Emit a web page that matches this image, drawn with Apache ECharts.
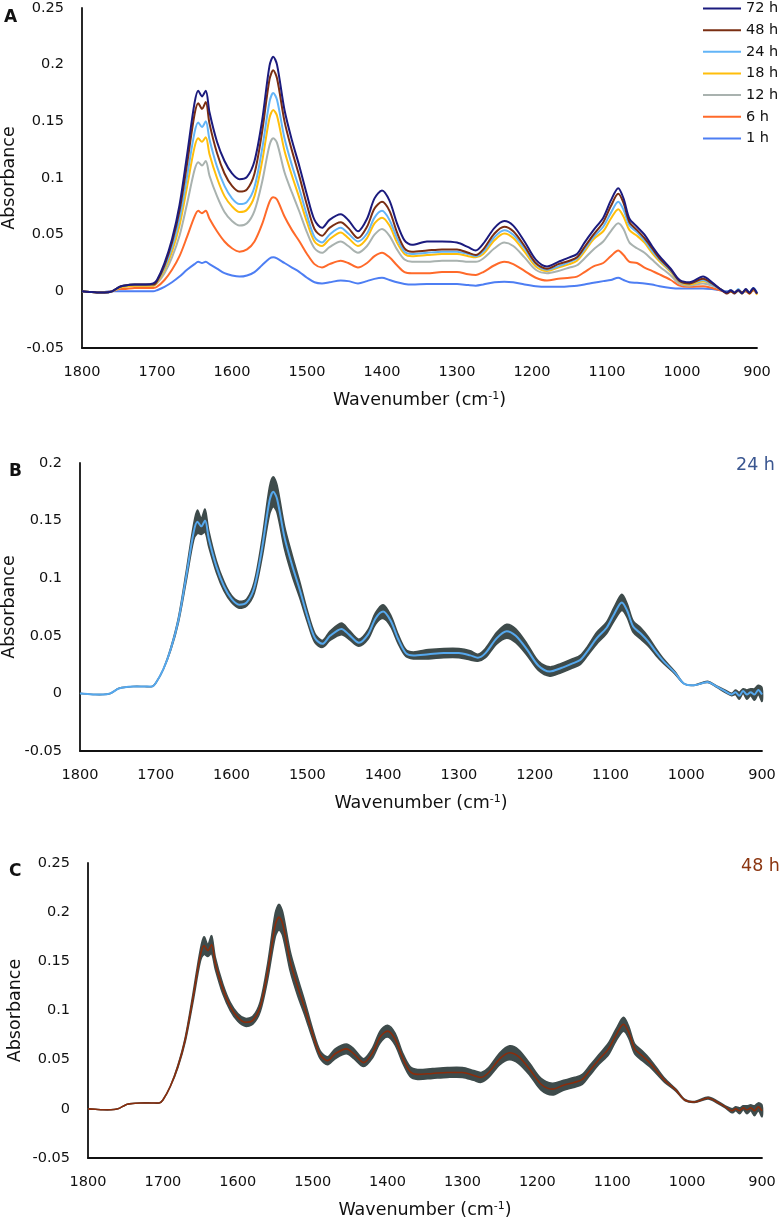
<!DOCTYPE html>
<html>
<head>
<meta charset="utf-8">
<script src="https://cdn.jsdelivr.net/npm/echarts@6/dist/echarts.min.js"></script>
<style>
html,body{margin:0;padding:0;background:#fff;}
#chart{width:780px;height:1221px;}
</style>
</head>
<body>
<div id="chart"></div>
<script>
// Wavenumber grid (cm-1)
var waves = [
  1800,1790,1780,1770,1760,1750,1745,1730,1715,1705,1700,
  1690,1680,1670,1660,1650,1645,1640,1635,1630,1620,1610,1600,1590,
  1580,1570,1560,1550,1545,1540,1530,1520,1510,1500,1490,1480,
  1470,1455,1445,1432,1420,1410,1400,1390,1380,1370,1360,
  1340,1320,1300,1285,1275,1265,1250,1237,1225,1210,1195,1180,
  1165,1150,1140,1130,1118,1105,1095,1085,1078,1070,1060,1050,1040,1030,
  1015,1003,990,972,960,949,940,935,930,925,920,915,910,905,900
];
var a72 = [
  0,-0.0005,-0.001,-0.001,0,0.004,0.005,0.006,0.006,0.007,0.010,
  0.025,0.046,0.076,0.120,0.166,0.177,0.172,0.177,0.158,0.132,0.115,0.104,0.099,
  0.101,0.115,0.150,0.199,0.207,0.200,0.160,0.133,0.110,0.085,0.063,0.056,
  0.063,0.068,0.063,0.053,0.064,0.082,0.089,0.080,0.060,0.045,0.041,
  0.044,0.044,0.043,0.039,0.036,0.042,0.056,0.062,0.058,0.044,0.028,0.022,
  0.026,0.030,0.033,0.043,0.054,0.065,0.080,0.091,0.082,0.064,0.057,0.050,0.040,0.031,
  0.020,0.010,0.008,0.013,0.008,0.002,-0.001,0.001,-0.001,0.001,-0.002,0.002,-0.001,0.003,-0.002
];
var a48 = [
  0,-0.0005,-0.001,-0.001,0,0.004,0.005,0.006,0.006,0.006,0.009,
  0.023,0.043,0.071,0.112,0.156,0.166,0.161,0.167,0.148,0.122,0.104,0.093,0.088,
  0.090,0.104,0.140,0.187,0.195,0.188,0.150,0.124,0.101,0.076,0.055,0.049,
  0.056,0.061,0.056,0.047,0.057,0.073,0.079,0.071,0.052,0.038,0.035,
  0.036,0.037,0.037,0.034,0.032,0.037,0.051,0.057,0.053,0.040,0.025,0.020,
  0.024,0.027,0.030,0.039,0.050,0.061,0.075,0.086,0.078,0.061,0.054,0.047,0.038,0.029,
  0.019,0.009,0.007,0.011,0.007,0.002,-0.002,0.000,-0.002,0.001,-0.001,0.001,-0.002,0.002,-0.002
];
var a24 = [
  0,-0.0005,-0.001,-0.001,0,0.004,0.005,0.006,0.006,0.006,0.009,
  0.021,0.039,0.064,0.101,0.140,0.149,0.145,0.150,0.134,0.110,0.093,0.082,0.077,
  0.079,0.092,0.125,0.167,0.175,0.169,0.135,0.111,0.090,0.067,0.048,0.043,
  0.050,0.056,0.051,0.044,0.051,0.065,0.071,0.063,0.047,0.035,0.033,
  0.034,0.035,0.035,0.033,0.031,0.035,0.048,0.054,0.050,0.038,0.024,0.019,
  0.022,0.026,0.029,0.037,0.048,0.057,0.069,0.079,0.072,0.058,0.052,0.045,0.036,0.028,
  0.018,0.0085,0.007,0.010,0.006,0.002,-0.001,0.001,-0.002,0.002,-0.001,0.001,-0.001,0.003,-0.001
];
var a18 = [
  0,-0.0005,-0.001,-0.001,0,0.003,0.004,0.005,0.005,0.005,0.008,
  0.019,0.035,0.058,0.092,0.127,0.135,0.132,0.136,0.121,0.100,0.084,0.075,0.070,
  0.072,0.084,0.114,0.153,0.160,0.155,0.124,0.102,0.082,0.061,0.044,0.040,
  0.046,0.052,0.047,0.040,0.047,0.060,0.065,0.058,0.043,0.033,0.031,
  0.032,0.033,0.033,0.031,0.030,0.033,0.045,0.051,0.047,0.035,0.022,0.018,
  0.021,0.024,0.027,0.035,0.046,0.053,0.064,0.0725,0.066,0.054,0.049,0.043,0.034,0.0265,
  0.017,0.008,0.006,0.009,0.006,0.002,-0.001,0.000,-0.001,0.001,-0.002,0.001,-0.002,0.002,-0.003
];
var a12 = [
  0,-0.0005,-0.001,-0.001,0,0.003,0.004,0.005,0.005,0.005,0.007,
  0.016,0.030,0.049,0.077,0.107,0.114,0.111,0.115,0.102,0.084,0.070,0.062,0.058,
  0.060,0.071,0.096,0.129,0.135,0.131,0.105,0.087,0.070,0.052,0.038,0.034,
  0.039,0.044,0.040,0.034,0.040,0.050,0.055,0.049,0.037,0.028,0.026,
  0.026,0.027,0.027,0.026,0.026,0.029,0.038,0.043,0.040,0.030,0.019,0.016,
  0.018,0.021,0.023,0.029,0.037,0.044,0.053,0.060,0.055,0.043,0.038,0.034,0.028,0.022,
  0.014,0.0065,0.005,0.007,0.005,0.002,-0.001,0.001,-0.001,0.000,-0.002,0.002,-0.001,0.002,-0.002
];
var a6 = [
  0,-0.0005,-0.001,-0.001,0,0.002,0.002,0.003,0.003,0.003,0.004,
  0.010,0.019,0.031,0.048,0.066,0.071,0.069,0.071,0.064,0.053,0.044,0.038,0.035,
  0.037,0.044,0.059,0.079,0.083,0.081,0.066,0.054,0.044,0.033,0.024,0.021,
  0.024,0.027,0.025,0.021,0.025,0.031,0.034,0.030,0.023,0.017,0.016,
  0.016,0.017,0.017,0.015,0.0145,0.017,0.023,0.026,0.024,0.018,0.012,0.0095,
  0.011,0.012,0.013,0.017,0.022,0.025,0.031,0.036,0.032,0.026,0.025,0.021,0.018,0.015,
  0.010,0.005,0.004,0.0045,0.003,0.001,-0.001,0.000,-0.001,0.001,-0.001,0.000,-0.002,0.001,-0.002
];
var a1 = [
  0,-0.0005,-0.0005,-0.0005,0,0,0,0,0,0,0.001,
  0.004,0.008,0.013,0.019,0.024,0.026,0.025,0.026,0.024,0.020,0.016,0.014,0.013,
  0.014,0.017,0.023,0.029,0.030,0.029,0.025,0.021,0.017,0.012,0.008,0.007,
  0.008,0.0095,0.009,0.007,0.009,0.011,0.012,0.010,0.008,0.0065,0.006,
  0.0065,0.0065,0.0065,0.0055,0.005,0.006,0.008,0.0085,0.008,0.006,0.0045,0.004,
  0.004,0.0045,0.005,0.006,0.0075,0.009,0.010,0.012,0.010,0.008,0.0075,0.007,0.006,0.0045,
  0.003,0.0025,0.0025,0.0026,0.002,0.001,0.000,0.000,-0.001,0.001,-0.001,0.000,-0.001,0.001,-0.002
];
// spread (half-width of the dark band) for panels B (24 h) and C (48 h)
var sd24 = [
  0,0,0,0,0,0,0,0,0,0,0,
  0,0.001,0.002,0.004,0.007,0.010,0.007,0.010,0.007,0.005,0.004,0.003,0.003,
  0.003,0.005,0.008,0.012,0.013,0.012,0.010,0.009,0.007,0.005,0.004,0.003,
  0.004,0.005,0.004,0.003,0.004,0.005,0.006,0.005,0.004,0.003,0.003,
  0.004,0.004,0.004,0.004,0.003,0.004,0.005,0.006,0.006,0.005,0.004,0.004,
  0.004,0.004,0.004,0.004,0.005,0.005,0.006,0.007,0.006,0.005,0.005,0.004,0.003,0.002,
  0.001,0,0,0.0005,0.0005,0.001,0.001,0.002,0.003,0.002,0.004,0.003,0.005,0.004,0.006
];
var sd48 = [
  0,0,0,0,0,0,0,0,0,0,0,
  0,0.001,0.002,0.004,0.006,0.009,0.006,0.009,0.006,0.005,0.004,0.004,0.004,
  0.004,0.005,0.008,0.012,0.013,0.012,0.010,0.009,0.007,0.005,0.004,0.004,
  0.005,0.005,0.005,0.004,0.005,0.006,0.006,0.006,0.005,0.005,0.005,
  0.005,0.005,0.005,0.005,0.005,0.005,0.006,0.007,0.007,0.006,0.006,0.006,
  0.005,0.005,0.005,0.005,0.005,0.006,0.006,0.007,0.006,0.005,0.005,0.004,0.003,0.002,
  0.001,0.0005,0.0005,0.001,0.001,0.001,0.002,0.002,0.003,0.002,0.004,0.003,0.005,0.004,0.006
];
var seriesNames = ['72 h','48 h','24 h','18 h','12 h','6 h','1 h'];
var seriesColors = ['#1B1B7E','#7A2E12','#62B4F7','#FFBE0B','#A9B2AF','#FF6A2A','#4D7EF3'];
var seriesData = [a72,a48,a24,a18,a12,a6,a1];

function pairs(arr){ return waves.map(function(w,i){ return [w, arr[i]]; }); }
function bandData(m,s){ return waves.map(function(w,i){ return [w, m[i]-s[i], m[i]+s[i]]; }); }

var FONT = 'DejaVu Sans';
var BAND = '#3E4B4B';
var grids = [
  {left:82, width:675, top:8, height:340, outerBoundsMode:'none', containLabel:false},
  {left:80, width:682, top:463, height:288, outerBoundsMode:'none', containLabel:false},
  {left:88, width:674, top:863, height:295, outerBoundsMode:'none', containLabel:false}
];
var yMax = [0.25, 0.2, 0.25];
var yNameGap = [64, 62, 64];

var xAxes = grids.map(function(g,i){
  return {
    type:'value', gridIndex:i, inverse:true, min:900, max:1800, interval:100,
    axisLine:{show:true, onZero:false, lineStyle:{color:'#111', width:1.8}},
    axisTick:{show:false}, splitLine:{show:false},
    axisLabel:{color:'#111', fontSize:14.5, fontFamily:FONT, margin:17,
      formatter:function(v){ return String(v); }},
    name:'Wavenumber (cm{sup|-1})', nameLocation:'middle', nameGap:43, nameMoveOverlap:false,
    nameTextStyle:{color:'#111', fontSize:17.5, fontFamily:FONT,
      rich:{sup:{fontSize:11, fontFamily:FONT, color:'#111', verticalAlign:'top', padding:[0,0,8,0]}}}
  };
});
var yAxes = grids.map(function(g,i){
  return {
    type:'value', gridIndex:i, min:-0.05, max:yMax[i], interval:0.05,
    axisLine:{show:true, lineStyle:{color:'#111', width:1.8}},
    axisTick:{show:false}, splitLine:{show:false},
    axisLabel:{color:'#111', fontSize:14.5, fontFamily:FONT, margin:18},
    name:'Absorbance', nameLocation:'middle', nameGap:yNameGap[i], nameMoveOverlap:false,
    nameTextStyle:{color:'#111', fontSize:17.5, fontFamily:FONT}
  };
});

var series = [];
// Panel A: draw 1 h first so 72 h ends on top
for (var k = seriesNames.length-1; k >= 0; k--) {
  series.push({
    name:seriesNames[k], type:'line', xAxisIndex:0, yAxisIndex:0,
    data:pairs(seriesData[k]), symbol:'none', showSymbol:false, smooth:0.3,
    lineStyle:{color:seriesColors[k], width:2}, itemStyle:{color:seriesColors[k]},
    silent:true
  });
}
function bandRender(params, api){
  if (params.dataIndexInside !== 0) return null;
  var n = params.dataInsideLength;
  var up = [], lo = [];
  for (var j = 0; j < n; j++) {
    var w = api.value(0, j);
    up.push(api.coord([w, api.value(2, j)]));
    lo.push(api.coord([w, api.value(1, j)]));
  }
  lo.reverse();
  return {
    type:'polygon',
    shape:{points: up.concat(lo), smooth:0.3},
    style:{fill:BAND, stroke:BAND, lineWidth:1.6, lineJoin:'round'}
  };
}
function bandSeries(idx, mean, sd, lineColor, tag, lw){
  return [
    {name:tag+' band', type:'custom', xAxisIndex:idx, yAxisIndex:idx,
     data:bandData(mean, sd), encode:{x:0, y:[1,2]}, renderItem:bandRender,
     silent:true, z:2},
    {name:tag+' mean', type:'line', xAxisIndex:idx, yAxisIndex:idx,
     data:pairs(mean), symbol:'none', smooth:0.3,
     lineStyle:{color:lineColor, width:lw}, silent:true, z:5}
  ];
}
series = series.concat(bandSeries(1, a24, sd24, '#55A8EE', 'B', 2));
series = series.concat(bandSeries(2, a48, sd48, '#8A2D0C', 'C', 1.6));

var legendIcon = 'path://M0,6 L38,6 L38,8 L0,8 Z';
var option = {
  animation:false,
  backgroundColor:'#fff',
  grid:grids,
  xAxis:xAxes,
  yAxis:yAxes,
  legend:{
    data:seriesNames.map(function(n){ return {name:n, icon:legendIcon}; }),
    orient:'vertical', left:703, top:1, padding:0,
    itemWidth:38, itemHeight:14, itemGap:6.65,
    textStyle:{fontSize:14.5, fontFamily:FONT, color:'#111'},
    selectedMode:false
  },
  graphic:[
    {type:'text', left:4, top:9, style:{text:'A', font:'bold 17px "DejaVu Sans"', fill:'#111'}},
    {type:'text', left:9, top:463, style:{text:'B', font:'bold 17px "DejaVu Sans"', fill:'#111'}},
    {type:'text', left:9, top:863, style:{text:'C', font:'bold 17px "DejaVu Sans"', fill:'#111'}},
    {type:'text', left:736, top:456, style:{text:'24 h', font:'17.5px "DejaVu Sans"', fill:'#3A5690'}},
    {type:'text', left:741, top:857, style:{text:'48 h', font:'17.5px "DejaVu Sans"', fill:'#8B3510'}}
  ],
  series:series
};
var chart = echarts.init(document.getElementById('chart'), null, {renderer:'canvas'});
chart.setOption(option);
</script>
</body>
</html>
